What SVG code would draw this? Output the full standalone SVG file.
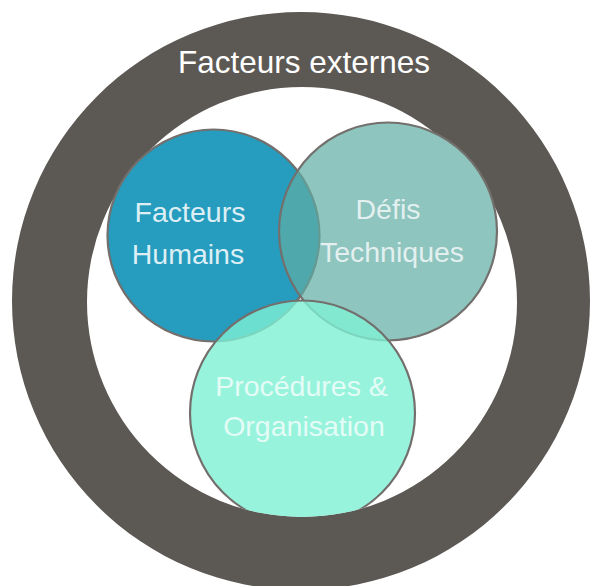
<svg xmlns="http://www.w3.org/2000/svg" width="592" height="586" viewBox="0 0 592 586">
<style>
.lbl{font-family:"Liberation Sans",Arial,Helvetica,sans-serif;font-size:28.5px;fill:#ffffff;text-anchor:middle}
.node{stroke:#736f6c;stroke-width:2.2}
</style>
<defs>
<clipPath id="inner"><circle cx="302" cy="302" r="215"/></clipPath>
</defs>
<rect width="592" height="586" fill="#ffffff"/>
<g id="ring">
<path d="M12,301 a289,289 0 1,0 578,0 a289,289 0 1,0 -578,0 Z M87,302 a215,215 0 1,0 430,0 a215,215 0 1,0 -430,0 Z" fill="#5c5955" fill-rule="evenodd"/>
<text x="304" y="73" class="lbl" style="font-size:31.5px">Facteurs externes</text>
</g>
<g id="underlay" fill="#ffffff">
<circle cx="213.5" cy="235.5" r="106"/>
<circle cx="388" cy="231.5" r="109"/>
</g>
<g id="humains">
<circle class="node" cx="213.5" cy="235.5" r="106" fill="#269dbf"/>
<text x="190" y="222" class="lbl" fill-opacity="0.85" style="fill-opacity:0.85">Facteurs</text>
<text x="188" y="264" class="lbl" style="fill-opacity:0.85">Humains</text>
</g>
<g id="techniques">
<circle class="node" cx="388" cy="231.5" r="109" fill="#5faca4" fill-opacity="0.7"/>
<text x="388" y="219" class="lbl" style="fill-opacity:0.75">Défis</text>
<text x="392" y="262" class="lbl" style="fill-opacity:0.75">Techniques</text>
</g>
<g id="procedures">
<g clip-path="url(#inner)">
<circle class="node" cx="302.5" cy="413" r="112.5" fill="#7ef0d4" fill-opacity="0.8"/>
</g>
<text x="301.5" y="396" class="lbl" style="fill-opacity:0.75">Procédures &amp;</text>
<text x="304" y="436" class="lbl" style="fill-opacity:0.75">Organisation</text>
</g>
<g id="connectors"/>
</svg>
